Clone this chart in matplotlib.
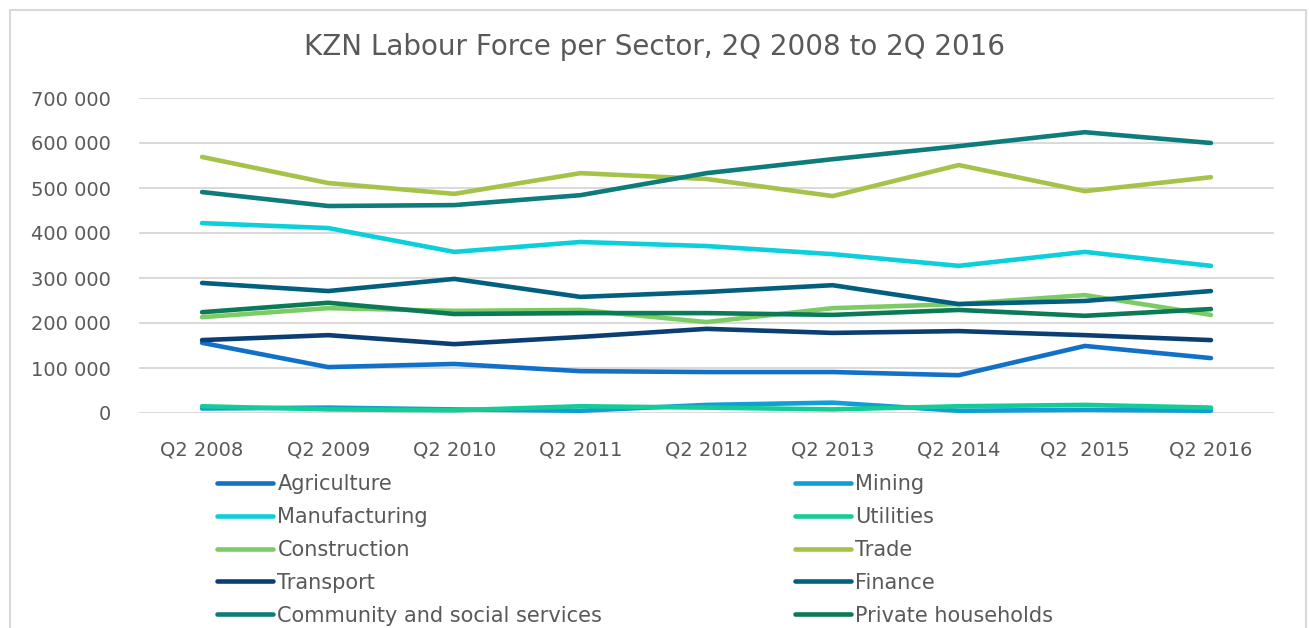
import matplotlib.pyplot as plt
from matplotlib.patches import Rectangle

# Quarterly labour force per sector, KwaZulu-Natal
quarters = ['Q2 2008', 'Q2 2009', 'Q2 2010', 'Q2 2011', 'Q2 2012',
            'Q2 2013', 'Q2 2014', 'Q2  2015', 'Q2 2016']

agriculture = [156000, 102000, 109000, 93000, 91000, 91000, 84000, 149000, 122000]
mining = [10000, 12000, 8000, 5000, 18000, 23000, 5000, 7000, 5000]
manufacturing = [422000, 411000, 358000, 380000, 371000, 353000, 327000, 358000, 327000]
utilities = [15000, 8000, 6000, 15000, 12000, 8000, 15000, 18000, 12000]
construction = [213000, 233000, 227000, 229000, 202000, 233000, 242000, 262000, 218000]
trade = [569000, 511000, 487000, 533000, 520000, 482000, 551000, 493000, 524000]
transport = [162000, 173000, 153000, 169000, 187000, 178000, 182000, 173000, 162000]
finance = [289000, 271000, 298000, 258000, 269000, 284000, 242000, 249000, 271000]
community = [491000, 460000, 462000, 484000, 533000, 564000, 593000, 624000, 600000]
households = [224000, 245000, 220000, 222000, 222000, 218000, 229000, 216000, 231000]

series = [
    ('Agriculture', agriculture, '#1170C8'),
    ('Mining', mining, '#0F9ED5'),
    ('Manufacturing', manufacturing, '#0BCFDA'),
    ('Utilities', utilities, '#14CC98'),
    ('Construction', construction, '#7CCB64'),
    ('Trade', trade, '#A5C249'),
    ('Transport', transport, '#0B3F73'),
    ('Finance', finance, '#035F80'),
    ('Community and social services', community, '#0E7C7B'),
    ('Private households', households, '#0B7A57'),
]

plt.rcParams['font.family'] = ['DejaVu Sans']
text_color = '#595959'

W, H = 1309, 628
fig = plt.figure(figsize=(W / 100, H / 100), dpi=100, facecolor='white')
ax = fig.add_axes([139 / W, 1 - 413 / H, (1274 - 139) / W, (413 - 98) / H])

x = list(range(len(quarters)))
lines = []
for name, values, color in series:
    ln, = ax.plot(x, values, color=color, lw=3.3, solid_capstyle='round',
                  solid_joinstyle='round', label=name)
    lines.append(ln)

ax.set_ylim(0, 700000)
ax.set_yticks(range(0, 700001, 100000))
ax.set_yticklabels(['0' if v == 0 else '{:,}'.format(v).replace(',', ' ')
                    for v in range(0, 700001, 100000)])
ax.set_xlim(-0.5, 8.5)
ax.set_xticks(x)
ax.set_xticklabels(quarters)
ax.tick_params(axis='both', length=0, labelsize=14, colors=text_color)
ax.tick_params(axis='y', pad=20)
ax.tick_params(axis='x', pad=20)
ax.grid(axis='y', color='#d9d9d9', lw=1.4)
ax.set_axisbelow(True)
for s in ax.spines.values():
    s.set_visible(False)

fig.text(0.5, 1 - 47 / H, 'KZN Labour Force per Sector, 2Q 2008 to 2Q 2016',
         ha='center', va='center', fontsize=20, color=text_color)

# two legend columns, read row by row: even entries left, odd entries right
legend_kw = dict(loc='upper left', frameon=False, fontsize=15, handlelength=2.7,
                 handletextpad=0.2, labelspacing=0.62, borderpad=0, borderaxespad=0)
for col, x0 in enumerate([217, 795]):
    idx = list(range(col, len(series), 2))
    leg = fig.legend([lines[i] for i in idx], [series[i][0] for i in idx],
                     bbox_to_anchor=(x0 / W, 1 - 474 / H), **legend_kw)
    for t in leg.get_texts():
        t.set_color(text_color)

fig.patches.append(Rectangle((10 / W, -0.1), (1306 - 10) / W, 1.1 - 10 / H,
                             transform=fig.transFigure, fill=False,
                             edgecolor='#d9d9d9', lw=1.5, clip_on=False))

fig.savefig('out.png', dpi=100, facecolor='white')
